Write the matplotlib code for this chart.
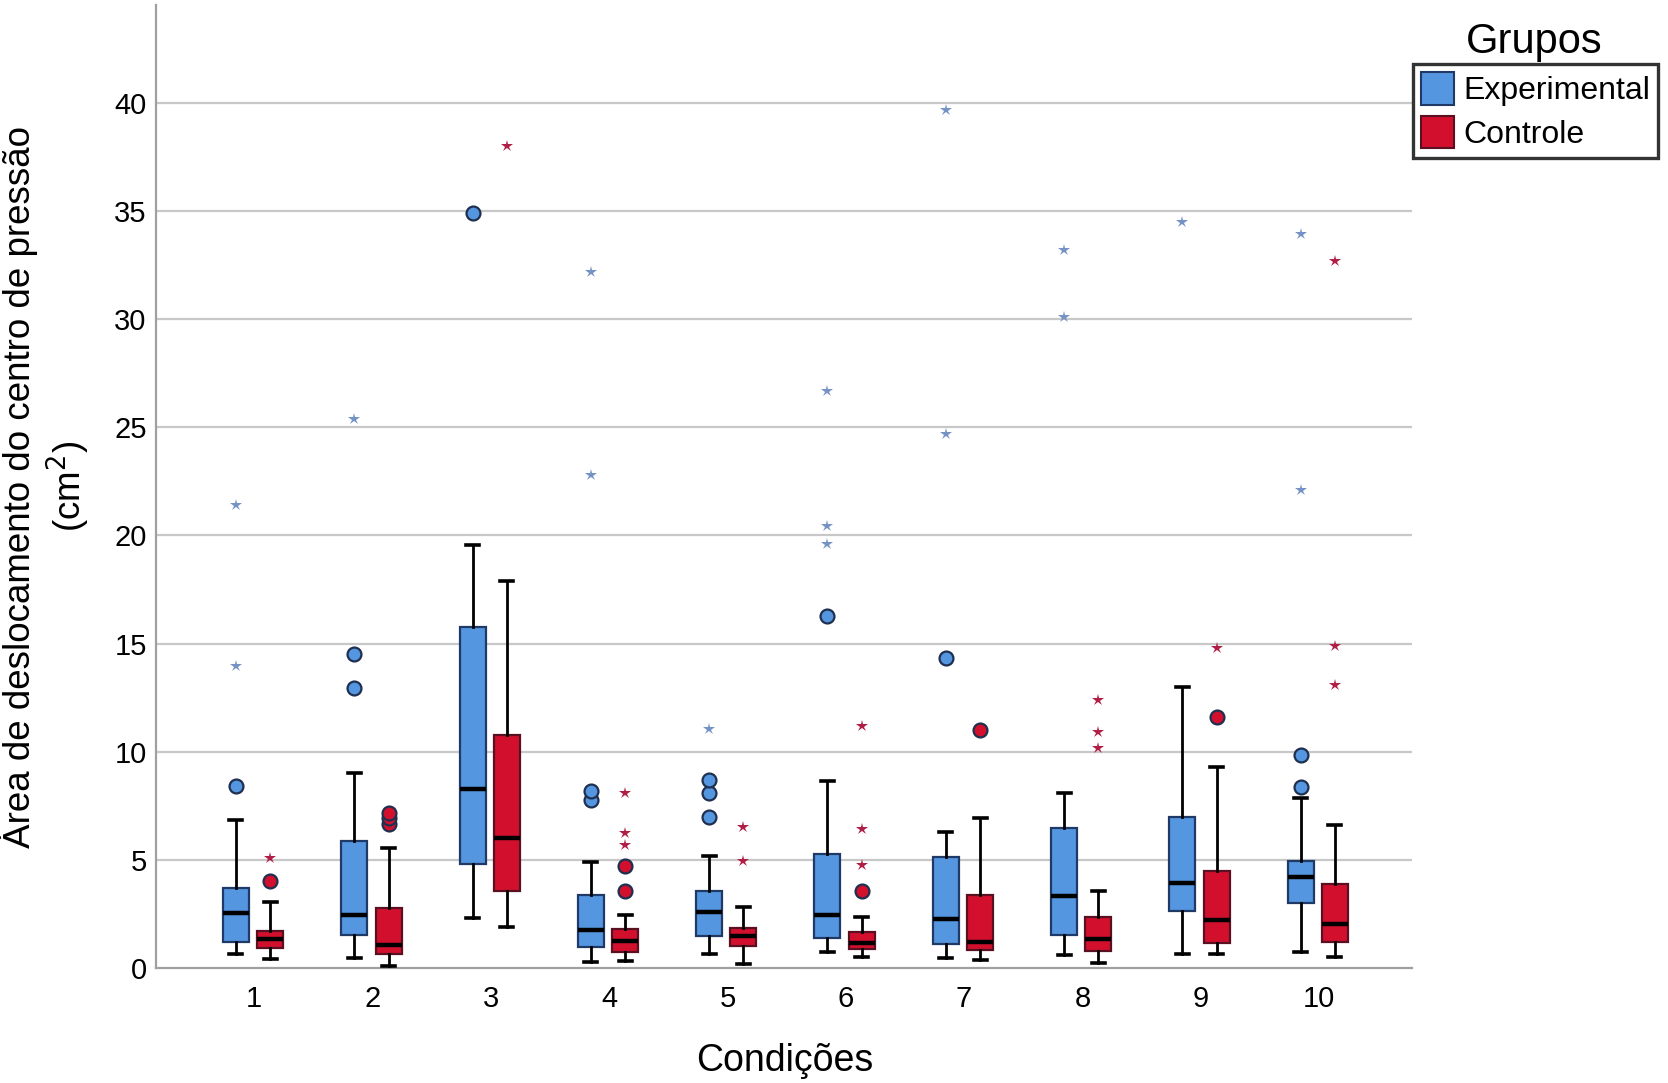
import numpy as np
import matplotlib.pyplot as plt
from matplotlib.patches import Patch

plt.rcParams['font.family'] = ['Liberation Sans', 'DejaVu Sans']

conds = ['1', '2', '3', '4', '5', '6', '7', '8', '9', '10']

# Experimental group
exp_wlo = [0.64, 0.49, 2.31, 0.29, 0.64, 0.74, 0.49, 0.59, 0.64, 0.74]
exp_q1 = [1.23, 1.52, 4.82, 0.98, 1.47, 1.38, 1.13, 1.52, 2.65, 3.03]
exp_med = [2.55, 2.46, 8.30, 1.77, 2.60, 2.46, 2.26, 3.34, 3.93, 4.22]
exp_q3 = [3.69, 5.90, 15.77, 3.39, 3.59, 5.26, 5.16, 6.49, 6.98, 4.97]
exp_whi = [6.83, 9.04, 19.56, 4.90, 5.20, 8.65, 6.29, 8.10, 13.0, 7.87]
exp_circ = [[8.4], [12.97, 14.5], [34.9], [7.76, 8.2], [6.98, 8.1, 8.7],
            [16.27], [14.35], [], [], [8.38, 9.85]]
exp_star = [[13.96, 21.4], [25.4], [], [22.8, 32.2], [11.06],
            [19.6, 20.44, 26.7], [24.67, 39.66], [30.1, 33.2], [34.5], [22.1, 33.95]]

# Control group
ctl_wlo = [0.44, 0.10, 1.92, 0.34, 0.20, 0.54, 0.39, 0.25, 0.64, 0.51]
ctl_q1 = [0.93, 0.64, 3.59, 0.74, 1.03, 0.88, 0.84, 0.79, 1.18, 1.23]
ctl_med = [1.33, 1.05, 6.04, 1.28, 1.47, 1.18, 1.23, 1.33, 2.21, 2.05]
ctl_q3 = [1.72, 2.80, 10.8, 1.82, 1.87, 1.67, 3.39, 2.36, 4.47, 3.88]
ctl_whi = [3.05, 5.55, 17.9, 2.46, 2.85, 2.36, 6.93, 3.59, 9.29, 6.60]
ctl_circ = [[4.03], [6.68, 6.93, 7.17], [], [3.59, 4.72], [], [3.59],
            [11.0], [], [11.6], []]
ctl_star = [[5.1], [], [38.0], [5.7, 6.24, 8.1], [4.96, 6.54],
            [4.77, 6.44, 11.2], [], [10.2, 10.9, 12.4], [14.8], [13.1, 14.9, 32.7]]

blue = '#5596E0'
red = '#D2102E'
blue_star = '#7592C4'
red_star = '#B01E45'

fig = plt.figure(figsize=(16.68, 10.83), dpi=100)
ax = fig.add_axes([0.0938, 0.106, 0.753, 0.889])

x = np.arange(1, len(conds) + 1)

def draw_group(pos, wlo, q1, med, q3, whi, circ, star, face, edge, scol):
	stats = []
	for i in range(len(pos)):
		stats.append({'whislo': wlo[i], 'q1': q1[i], 'med': med[i],
		              'q3': q3[i], 'whishi': whi[i], 'fliers': []})
	ax.bxp(stats, positions=pos, widths=0.22, patch_artist=True,
	       showfliers=False,
	       boxprops=dict(facecolor=face, edgecolor=edge, linewidth=1.6),
	       medianprops=dict(color='black', linewidth=3.2),
	       whiskerprops=dict(color='black', linewidth=2.0),
	       capprops=dict(color='black', linewidth=2.6),
	       capwidths=0.11, zorder=3)
	for i in range(len(pos)):
		if circ[i]:
			ax.plot([pos[i]] * len(circ[i]), circ[i], 'o', ms=10,
			        mfc=face, mec='#1F2F4F', mew=1.6, zorder=4)
		if star[i]:
			ax.plot([pos[i]] * len(star[i]), star[i], '*', ms=9,
			        color=scol, mew=0, zorder=4)

draw_group(x - 0.155, exp_wlo, exp_q1, exp_med, exp_q3, exp_whi,
           exp_circ, exp_star, blue, '#1F3A66', blue_star)
draw_group(x + 0.135, ctl_wlo, ctl_q1, ctl_med, ctl_q3, ctl_whi,
           ctl_circ, ctl_star, red, '#5A1020', red_star)

ax.set_xlim(0.173, 10.79)
ax.set_ylim(0, 44.5)
ax.set_xticks(x)
ax.set_xticklabels(conds)
ax.set_yticks(np.arange(0, 45, 5))
ax.tick_params(axis='x', length=0, pad=12, labelsize=21)
ax.tick_params(axis='y', length=0, pad=7, labelsize=21)

for v in range(5, 45, 5):
	ax.axhline(v, color='#C8C8C8', linewidth=1.6, zorder=1)

for s in ['top', 'right']:
	ax.spines[s].set_visible(False)
for s in ['left', 'bottom']:
	ax.spines[s].set_color('#A0A0A0')
	ax.spines[s].set_linewidth(1.6)

ax.set_xlabel('Condições', fontsize=27, labelpad=22)
ax.set_ylabel('Área de deslocamento do centro de pressão\n(cm$^2$)',
              fontsize=26.5, labelpad=16, linespacing=1.2)

handles = [Patch(facecolor=blue, edgecolor='#1F3A66', linewidth=1.5),
           Patch(facecolor=red, edgecolor='#5A1020', linewidth=1.5)]
leg = fig.legend(handles, ['Experimental', 'Controle'], loc='upper left',
                 bbox_to_anchor=(0.847, 0.941), fontsize=23, frameon=True,
                 fancybox=False, borderpad=0.25, handlelength=1.05,
                 handleheight=1.2, handletextpad=0.28, labelspacing=0.3,
                 borderaxespad=0)
leg.get_frame().set_edgecolor('black')
leg.get_frame().set_linewidth(2.4)
fig.text(0.920, 0.961, 'Grupos', fontsize=30, ha='center', va='center')

fig.savefig('out.png', dpi=100)
